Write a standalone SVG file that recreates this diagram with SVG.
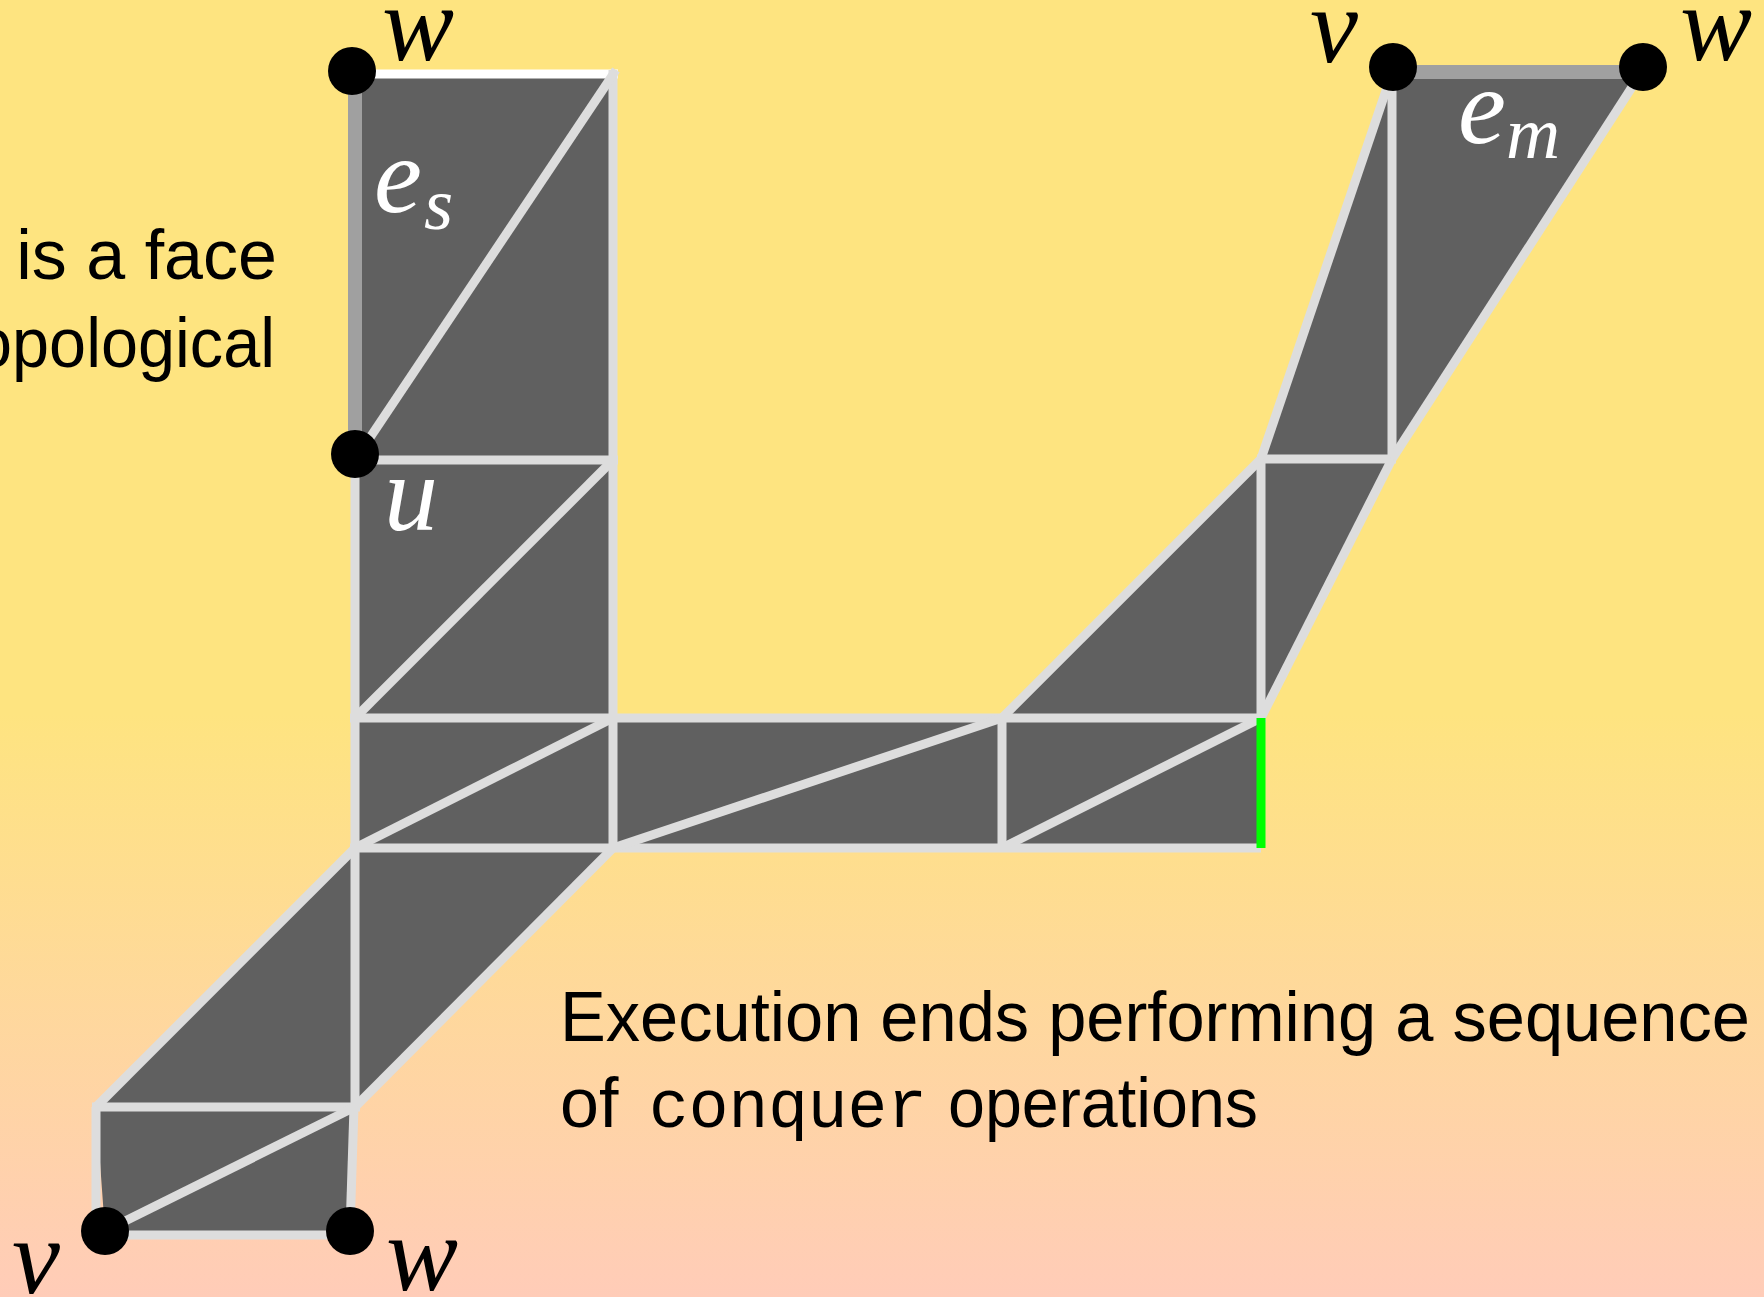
<svg xmlns="http://www.w3.org/2000/svg" width="1764" height="1297" viewBox="0 0 1764 1297">
<defs>
<linearGradient id="bg" x1="0" y1="0" x2="0" y2="1297" gradientUnits="userSpaceOnUse">
<stop offset="0" stop-color="#FEE480"/>
<stop offset="0.55" stop-color="#FEE480"/>
<stop offset="1" stop-color="#FFCCB8"/>
</linearGradient>
<style>
.face{fill:#606060;stroke:none}
.edge{stroke:#DDDDDD;stroke-width:9;fill:none}
.special{stroke:#A0A0A0;stroke-width:14;fill:none}
.top{stroke:#FFFFFF;stroke-width:9;fill:none}
.green{stroke:#00FF00;stroke-width:9;fill:none}
.dot{fill:#000000}
.math{font-family:"Liberation Serif",serif;font-style:italic;font-size:108px}
.sub{font-family:"Liberation Serif",serif;font-style:italic;font-size:75px}
.txt{font-family:"Liberation Sans",sans-serif;font-size:70px;fill:#000}
.mono{font-family:"Liberation Mono",monospace;font-size:68px;fill:#000}
</style>
</defs>
<rect x="0" y="0" width="1764" height="1297" fill="url(#bg)"/>

<g id="mesh-faces">
<polygon class="face" points="355,74 613,74 613,460 613,718 1002,718 1261,459 1393,70 1643,70 1392,459 1261,718 1261,848 1002,848 613,848 355,1107 350,1231 105,1231 96,1107 355,848 355,718 355,460"/>
</g>

<g id="connectors">
<line class="top" x1="355" y1="74" x2="618" y2="74"/>
<line class="edge" x1="613" y1="70" x2="613" y2="463"/>
<line class="edge" x1="355" y1="460" x2="616" y2="70"/>
<line class="edge" x1="355" y1="460" x2="618" y2="460"/>
<line class="edge" x1="355" y1="460" x2="355" y2="718"/>
<line class="edge" x1="613" y1="460" x2="613" y2="718"/>
<line class="edge" x1="355" y1="718" x2="613" y2="460"/>
<line class="edge" x1="350" y1="718" x2="1266" y2="718"/>
<line class="edge" x1="350" y1="848" x2="1261" y2="848"/>
<line class="edge" x1="355" y1="718" x2="355" y2="848"/>
<line class="edge" x1="613" y1="718" x2="613" y2="848"/>
<line class="edge" x1="1002" y1="718" x2="1002" y2="848"/>
<line class="edge" x1="355" y1="848" x2="613" y2="718"/>
<line class="edge" x1="613" y1="848" x2="1002" y2="718"/>
<line class="edge" x1="1002" y1="848" x2="1261" y2="718"/>
<line class="edge" x1="1002" y1="718" x2="1261" y2="459"/>
<line class="edge" x1="1261" y1="459" x2="1261" y2="718"/>
<line class="edge" x1="1261" y1="718" x2="1392" y2="459"/>
<line class="edge" x1="1257" y1="459" x2="1396" y2="459"/>
<line class="edge" x1="1261" y1="459" x2="1393" y2="70"/>
<line class="edge" x1="1392" y1="459" x2="1392" y2="70"/>
<line class="edge" x1="1392" y1="459" x2="1643" y2="70"/>
<line class="edge" x1="355" y1="848" x2="96" y2="1107"/>
<line class="edge" x1="613" y1="848" x2="355" y2="1107"/>
<line class="edge" x1="355" y1="848" x2="355" y2="1107"/>
<line class="edge" x1="92" y1="1107" x2="360" y2="1107"/>
<line class="edge" x1="96" y1="1107" x2="96" y2="1231"/>
<line class="edge" x1="354" y1="1107" x2="350" y2="1231"/>
<line class="edge" x1="105" y1="1235" x2="350" y2="1235"/>
<line class="edge" x1="105" y1="1231" x2="355" y2="1107"/>
<line class="special" x1="355" y1="71" x2="355" y2="454"/>
<line class="special" x1="1393" y1="72" x2="1643" y2="72"/>
<line class="green" x1="1261" y1="718" x2="1261" y2="848"/>
</g>

<g id="node-w-top"><circle class="dot" cx="352" cy="71" r="24"/><text class="math" x="382" y="60">w</text></g>
<g id="node-u"><circle class="dot" cx="355" cy="454" r="24"/><text class="math" x="384" y="530" fill="#FFFFFF">u</text></g>
<g id="node-v-right"><circle class="dot" cx="1393" cy="67" r="24"/><text class="math" x="1310" y="62">v</text></g>
<g id="node-w-right"><circle class="dot" cx="1643" cy="67" r="24"/><text class="math" x="1680" y="60">w</text></g>
<g id="node-v-bottom"><circle class="dot" cx="105" cy="1231" r="24"/><text class="math" x="12" y="1293">v</text></g>
<g id="node-w-bottom"><circle class="dot" cx="350" cy="1231" r="24"/><text class="math" x="386" y="1290">w</text></g>

<g id="edge-labels" fill="#FFFFFF">
<text class="math" x="374" y="212" fill="#FFFFFF">e</text>
<text class="sub" x="424" y="229" fill="#FFFFFF">s</text>
<text class="math" x="1458" y="143" fill="#FFFFFF">e</text>
<text class="sub" x="1506" y="158" fill="#FFFFFF">m</text>
</g>

<g id="captions">
<text class="txt" x="277" y="279" text-anchor="end">is a face</text>
<text class="txt" x="275" y="367" text-anchor="end" textLength="300" lengthAdjust="spacingAndGlyphs">opological</text>
<text class="txt" x="560" y="1041" textLength="1190" lengthAdjust="spacingAndGlyphs">Execution ends performing a sequence</text>
<text class="txt" x="560" y="1127">of</text>
<text class="mono" x="649" y="1127" textLength="278" lengthAdjust="spacingAndGlyphs">conquer</text>
<text class="txt" x="948" y="1127" textLength="310" lengthAdjust="spacingAndGlyphs">operations</text>
</g>
</svg>
